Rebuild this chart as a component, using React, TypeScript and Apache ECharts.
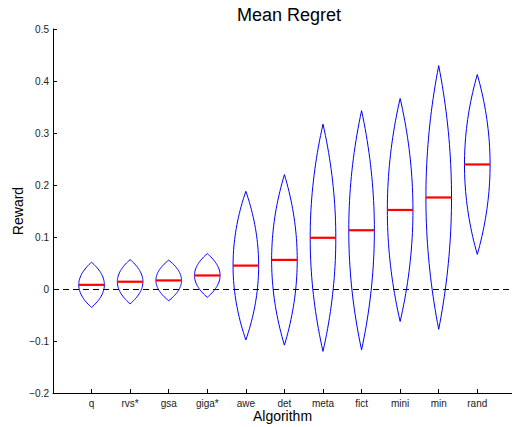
import React, { useEffect, useRef } from "react";
import * as echarts from "echarts";

// Algorithms along the x axis, in plotted order
const categories = ["q", "rvs*", "gsa", "giga*", "awe", "det", "meta", "fict", "mini", "min", "rand"];
// Mean regret per algorithm (red bar)
const means = [0.008, 0.014, 0.0165, 0.026, 0.045, 0.056, 0.0985, 0.113, 0.152, 0.176, 0.2395];
// Half-height of each lens (distance from mean to tip)
const spreads = [0.0435, 0.0425, 0.039, 0.042, 0.143, 0.164, 0.2185, 0.23, 0.2145, 0.2535, 0.173];
// Y tick values
const yTicks = [-0.2, -0.1, 0, 0.1, 0.2, 0.3, 0.4, 0.5];

const FONT = "'Liberation Sans', Arial, Helvetica, sans-serif";
const HALF_WIDTH = 0.332; // lens half-width in category units

function fmtY(v: number): string {
  const r = Math.round(v * 10) / 10;
  if (r === 0) return "0";
  return r < 0 ? "\u2212" + Math.abs(r).toFixed(1) : r.toFixed(1);
}

export default function App() {
  const ref = useRef<HTMLDivElement>(null);

  useEffect(() => {
    if (!ref.current) return;
    const chart = echarts.init(ref.current, null, { renderer: "svg" });

    const data = categories.map((_, i) => [i + 1, means[i], spreads[i]]);

    const renderItem = (_params: any, api: any) => {
      const x = api.value(0) as number;
      const m = api.value(1) as number;
      const s = api.value(2) as number;
      const N = 40;
      const right: number[][] = [];
      const left: number[][] = [];
      for (let k = 0; k <= N; k++) {
        const y = m - s + (2 * s * k) / N;
        const t = (y - m) / s;
        const w = HALF_WIDTH * (1 - t * t);
        right.push(api.coord([x + w, y]));
        left.push(api.coord([x - w, y]));
      }
      const points = right.concat(left.reverse());
      const a = api.coord([x - HALF_WIDTH, m]);
      const b = api.coord([x + HALF_WIDTH, m]);
      return {
        type: "group",
        children: [
          {
            type: "polygon",
            shape: { points },
            style: { fill: "none", stroke: "#0000ff", lineWidth: 1 },
          },
          {
            type: "line",
            shape: { x1: a[0], y1: a[1], x2: b[0], y2: b[1] },
            style: { stroke: "#ff0000", lineWidth: 2.2 },
          },
        ],
      };
    };

    chart.setOption({
      animation: false,
      backgroundColor: "#ffffff",
      textStyle: { fontFamily: FONT },
      title: {
        text: "Mean Regret",
        left: 284,
        textAlign: "center",
        top: 1,
        textStyle: { fontFamily: FONT, fontSize: 18, fontWeight: "normal", color: "#000" },
      },
      grid: {
        left: 53,
        right: 0,
        top: 29,
        bottom: 34,
        containLabel: false,
        outerBoundsMode: "none",
      },
      xAxis: {
        type: "value",
        min: 0,
        max: 11.9,
        interval: 1,
        name: "Algorithm",
        nameLocation: "middle",
        nameGap: 16,
        nameMoveOverlap: false,
        nameTextStyle: { fontFamily: FONT, fontSize: 14, color: "#000" },
        splitLine: { show: false },
        axisLine: { show: true, onZero: false, lineStyle: { color: "#000", width: 1 } },
        axisTick: {
          show: true,
          inside: true,
          length: 4,
          customValues: categories.map((_, i) => i + 1),
          lineStyle: { color: "#000" },
        },
        axisLabel: {
          fontFamily: FONT,
          fontSize: 10,
          color: "#222",
          margin: 5,
          customValues: categories.map((_, i) => i + 1),
          formatter: (v: number) => categories[Math.round(v) - 1] ?? "",
        },
      },
      yAxis: {
        type: "value",
        min: -0.2,
        max: 0.5,
        interval: 0.1,
        name: "Reward",
        nameLocation: "middle",
        nameGap: 28,
        nameMoveOverlap: false,
        nameTextStyle: { fontFamily: FONT, fontSize: 14, color: "#000" },
        splitLine: { show: false },
        axisLine: { show: true, lineStyle: { color: "#000", width: 1 } },
        axisTick: { show: true, inside: true, length: 4, lineStyle: { color: "#000" } },
        axisLabel: {
          fontFamily: FONT,
          fontSize: 10,
          color: "#222",
          margin: 4,
          customValues: yTicks,
          formatter: (v: number) => fmtY(v),
        },
      },
      series: [
        {
          type: "custom",
          renderItem,
          data,
          silent: true,
          markLine: {
            silent: true,
            symbol: "none",
            label: { show: false },
            lineStyle: { color: "#000", type: [6, 4], width: 1 },
            data: [{ yAxis: 0 }],
          },
        },
      ],
    });

    return () => chart.dispose();
  }, []);

  return (
    <div
      ref={ref}
      style={{ position: "absolute", left: 0, top: 0, width: 512, height: 427 }}
    />
  );
}
